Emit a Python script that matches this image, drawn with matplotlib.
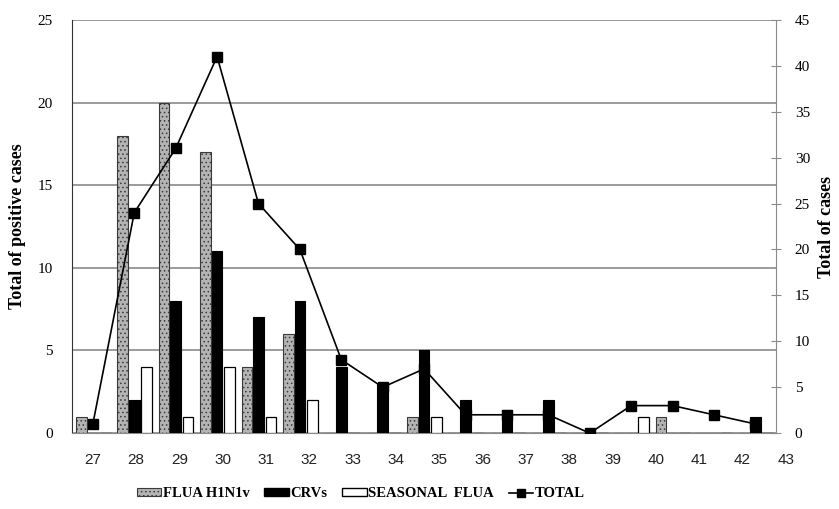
import numpy as np
import matplotlib
matplotlib.use("Agg")
import matplotlib.pyplot as plt
from matplotlib.patches import Patch
from matplotlib.lines import Line2D

weeks = [27, 28, 29, 30, 31, 32, 33, 34, 35, 36, 37, 38, 39, 40, 41, 42, 43]
flua_h1n1v = [1, 18, 20, 17, 4, 6, 0, 0, 1, 0, 0, 0, 0, 0, 1, 0, 0]
crvs = [0, 2, 8, 11, 7, 8, 4, 3, 5, 2, 1.4, 2, 0, 0, 0, 0, 1]
seasonal_flua = [0, 4, 1, 4, 1, 2, 0, 0, 1, 0, 0, 0, 0, 1, 0, 0, 0]
total = [1, 24, 31, 41, 25, 20, 8, 5, 7, 2, 2, 2, 0, 3, 3, 2, 1]

plt.rcParams['hatch.linewidth'] = 0.6
serif = 'Liberation Serif'

fig = plt.figure(figsize=(8.39, 5.09), dpi=100)
ax = fig.add_axes([0.086, 0.149, 0.839, 0.812])
x = np.arange(len(weeks))
w = 0.26

ax.bar(x - 0.28, flua_h1n1v, w, facecolor='#b4b4b4', edgecolor='#3a3a3a',
       hatch='....', linewidth=0.8, zorder=3)
ax.bar(x, crvs, w, color='black', edgecolor='black', linewidth=0.8, zorder=3)
ax.bar(x + 0.30, seasonal_flua, w, facecolor='white', edgecolor='black',
       linewidth=0.9, zorder=3)

ax.set_xlim(-0.5, len(weeks) - 0.5)
ax.set_ylim(0, 25)
ax.set_yticks(range(0, 26, 5))
ax.yaxis.grid(True, color='#8a8a8a', linewidth=1.2, zorder=0)
ax.set_axisbelow(True)
ax.set_xticks([])
for s in ['top', 'right']:
    ax.spines[s].set_visible(False)
ax.spines['left'].set_color('#333333')
ax.spines['bottom'].set_color('#8a8a8a')
ax.tick_params(axis='y', length=0, pad=14)
for lab in ax.get_yticklabels():
    lab.set_fontfamily(serif)
    lab.set_fontsize(11)
ax.set_ylabel('Total of positive cases', fontfamily=serif, fontweight='bold',
              fontsize=13, labelpad=8)

# week labels (slightly wider spacing than the bars, as in the original)
for i, wk in enumerate(weeks):
    ax.text(i * 1.046, -0.065, str(wk), transform=ax.get_xaxis_transform(),
            ha='center', va='center', fontsize=11, fontfamily='Liberation Sans',
            color='#222222', clip_on=False)

ax2 = ax.twinx()
ax2.plot(x, total, color='black', linewidth=1.2, marker='s', markersize=7,
         zorder=4)
ax2.set_ylim(0, 45)
ax2.set_yticks(range(0, 46, 5))
for s in ['top', 'left', 'bottom']:
    ax2.spines[s].set_visible(False)
ax2.spines['right'].set_color('#8a8a8a')
ax2.tick_params(axis='y', direction='inout', length=7, color='#8a8a8a', pad=10)
for lab in ax2.get_yticklabels():
    lab.set_fontfamily(serif)
    lab.set_fontsize(11)
ax2.set_ylabel('Total of cases', fontfamily=serif, fontweight='bold',
               fontsize=13, labelpad=6)

handles = [
    Patch(facecolor='#b4b4b4', edgecolor='#3a3a3a', hatch='....', linewidth=0.8),
    Patch(facecolor='black', edgecolor='black'),
    Patch(facecolor='white', edgecolor='black'),
    Line2D([0], [0], color='black', linewidth=1.2, marker='s', markersize=6),
]
labels = ['FLUA H1N1v', 'CRVs', 'SEASONAL  FLUA', 'TOTAL']
fig.legend(handles, labels, loc='center', bbox_to_anchor=(0.43, 0.03), ncol=4,
           frameon=False, handlelength=1.7, handleheight=0.5, handletextpad=0.1,
           columnspacing=1.0, prop={'family': serif, 'weight': 'bold', 'size': 10.5})

fig.savefig('out.png', dpi=100)
